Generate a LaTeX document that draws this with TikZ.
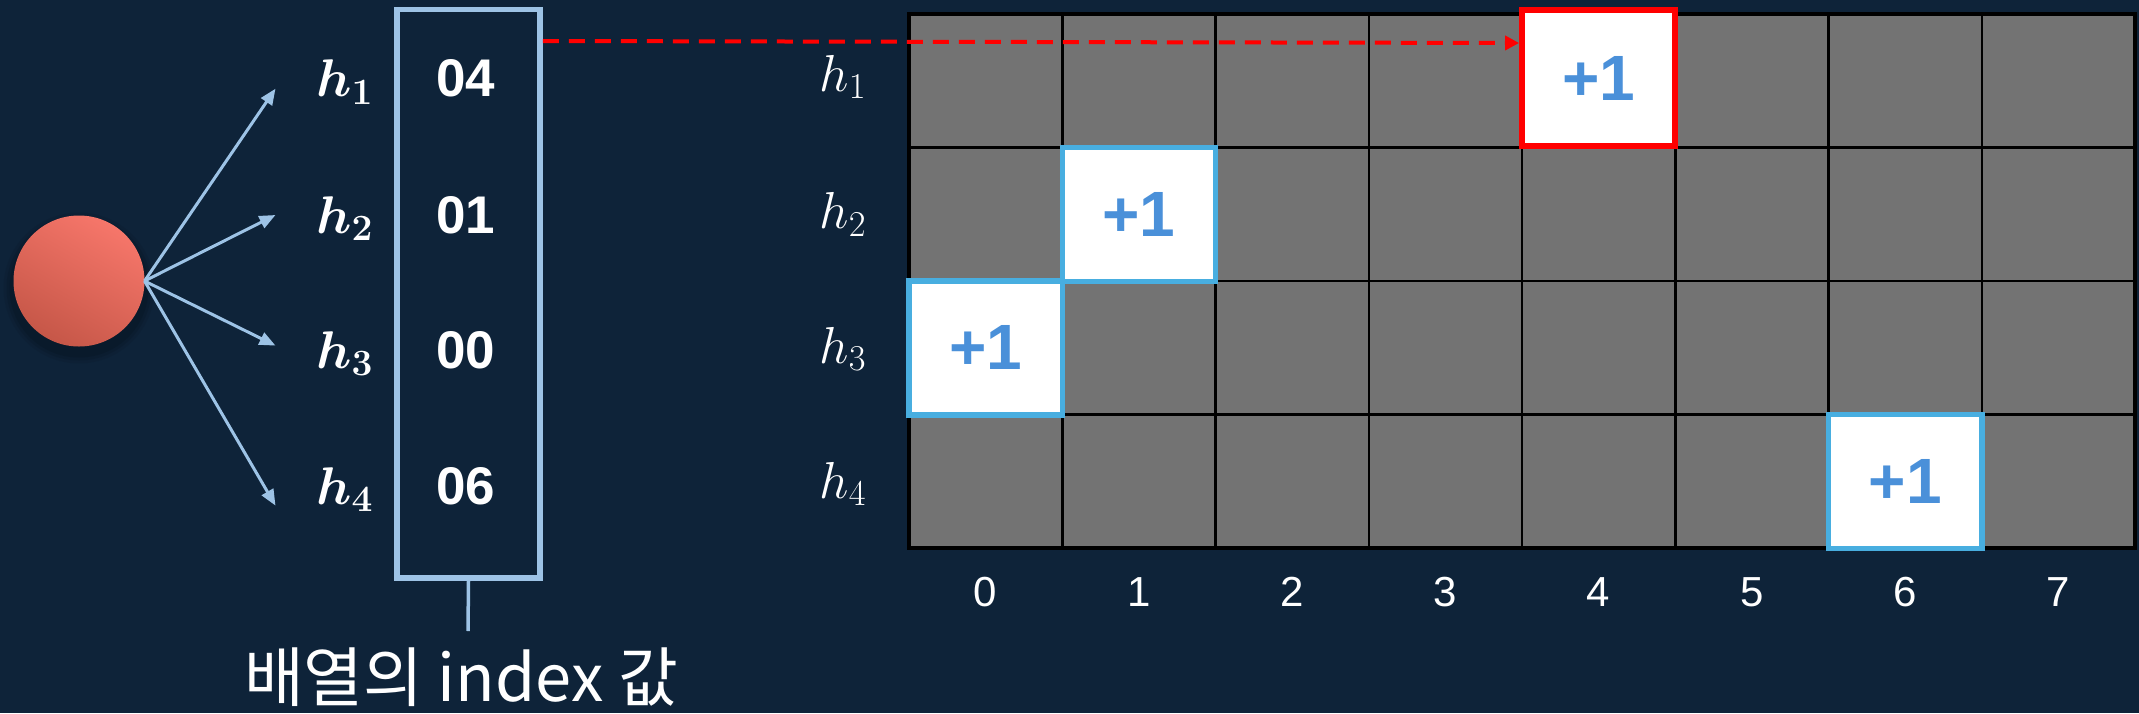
\RequirePackage{fix-cm}
\documentclass[tikz,border=0pt]{standalone}
\usepackage{fontspec}
\usepackage{bm}
\usetikzlibrary{arrows.meta,calc}
\newfontfamily\sansf{Liberation Sans}
\newfontfamily\krf{Noto Sans CJK KR}
\definecolor{bg}{HTML}{0E2339}
\definecolor{lblue}{HTML}{9DC3E6}
\definecolor{cellgray}{HTML}{737373}
\definecolor{hiblue}{HTML}{48AEE0}
\definecolor{txtblue}{HTML}{4A90D9}
\definecolor{ballhi}{HTML}{F6766A}
\definecolor{balllo}{HTML}{C65748}
\begin{document}
\begin{tikzpicture}[x=1pt,y=-1pt,
  cell/.style={draw=black, line width=2.5pt, fill=cellgray, minimum width=153.25pt, minimum height=133.5pt, inner sep=0pt, outer sep=0pt},
  hicell/.style={fill=white, line width=5.5pt, minimum width=153.25pt, minimum height=134pt, inner sep=0pt, outer sep=0pt, font=\sansf\bfseries\fontsize{64}{64}\selectfont, text=txtblue},
  bluecell/.style={hicell, draw=hiblue},
  redcell/.style={hicell, draw=red},
  numtxt/.style={text=white, font=\sansf\bfseries\fontsize{53}{53}\selectfont, inner sep=0pt, anchor=base},
  hbold/.style={text=white, font=\fontsize{53}{53}\selectfont, inner sep=0pt, anchor=base west},
  hrow/.style={text=white, font=\fontsize{52}{52}\selectfont, inner sep=0pt, anchor=base west},
  coltxt/.style={text=white, font=\sansf\fontsize{42}{42}\selectfont, inner sep=0pt, anchor=base},
  fanarrow/.style={draw=lblue, line width=3pt, -{Triangle[length=16pt,width=13pt]}},
]
% background and bounding box
\fill[bg] (0,0) rectangle (2139,713);
\useasboundingbox (0,0) rectangle (2139,713);

% ball with soft shadow
\foreach \k/\o in {10/0.06,7/0.08,4/0.1}
  \fill[black, opacity=\o] (79,288) circle ({65.5+\k});
\node[circle, minimum size=131pt, inner sep=0pt, outer sep=0pt, shading=axis, top color=ballhi, bottom color=balllo, shading angle=-30] (ball) at (79,281) {};

% fan arrows
\coordinate (t1) at (275.5,88.7);
\coordinate (t2) at (275.5,215);
\coordinate (t3) at (275.5,345.6);
\coordinate (t4) at (275.5,505.6);
\foreach \i in {1,...,4}
  \draw[fanarrow] (ball.east) -- (t\i);

% h labels (bold)
\node[hbold] (hb1) at (316,96.4) {$\bm{h_1}$};
\node[hbold] (hb2) at (316,233) {$\bm{h_2}$};
\node[hbold] (hb3) at (316,368) {$\bm{h_3}$};
\node[hbold] (hb4) at (316,504) {$\bm{h_4}$};

% array box
\node[draw=lblue, line width=5.5pt, minimum width=143pt, minimum height=568.5pt, inner sep=0pt, outer sep=0pt] (arr) at (468.5,293.75) {};
\node[numtxt] (n1) at (466,96.4) {04};
\node[numtxt] (n2) at (466,233) {01};
\node[numtxt] (n3) at (466,368) {00};
\node[numtxt] (n4) at (466,504) {06};
\coordinate (stem) at (468,631);
\draw[lblue, line width=3.5pt] ([yshift=-2.75pt]arr.south) -- (stem);
\node[text=white, font=\krf\fontsize{65}{65}\selectfont, inner sep=0pt, anchor=base] (lbl) at (461,701) {배열의 index 값};

% grid
\foreach \r in {1,...,4}
  \foreach \c in {0,...,7}
    \node[cell] (g\r\c) at ({909+153.25*(\c+0.5)},{14+133.5*(\r-0.5)}) {};
\draw[black, line width=3.5pt] (g10.north west) rectangle (g47.south east);

% column labels
\foreach \c in {0,...,7}
  \node[coltxt] (col\c) at ({909+153.25*(\c+0.5)},606.7) {\c};

% row labels
\node[hrow] (hr1) at (819.3,91) {$h_1$};
\node[hrow] (hr2) at (819.3,228.6) {$h_2$};
\node[hrow] (hr3) at (819.3,363) {$h_3$};
\node[hrow] (hr4) at (819.3,498) {$h_4$};

% highlighted cells
\node[bluecell] (c21) at (g21) {+1};
\node[bluecell] (c30) at (g30) {+1};
\node[bluecell] (c46) at (g46) {+1};
\node[redcell, minimum height=136pt] (c14) at (1598.5,78) {+1};

% red dashed arrow
\draw[red, line width=4pt, dash pattern=on 16pt off 10pt, -{Triangle[length=14pt,width=14pt]}]
  ([xshift=2.75pt,yshift=-31.5pt]arr.north east) -- ([xshift=-2.75pt,yshift=35pt]c14.west);
\end{tikzpicture}
\end{document}
